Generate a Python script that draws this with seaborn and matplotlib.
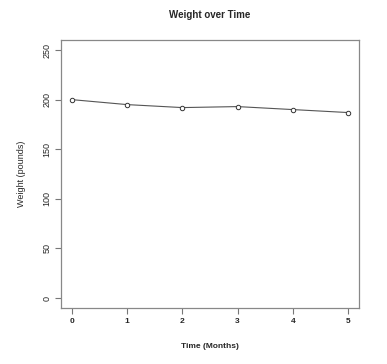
import pandas as pd
import seaborn as sns
import matplotlib
matplotlib.use("Agg")
import matplotlib.pyplot as plt

months = [0, 1, 2, 3, 4, 5]
weight = [200, 195, 192, 193, 190, 187]
y_ticks = [0, 50, 100, 150, 200, 250]

df = pd.DataFrame({"month": months, "weight": weight})

sns.set_style("ticks")
plt.rcParams["font.family"] = ["Liberation Sans", "DejaVu Sans"]

fig = plt.figure(figsize=(3.87, 3.64), dpi=100)
ax = fig.add_axes([0.1576, 0.1538, 0.770, 0.736])

sns.lineplot(data=df, x="month", y="weight", ax=ax, color="#555555", linewidth=0.8,
             marker="o", markersize=3.2, markerfacecolor="white",
             markeredgecolor="#333333", markeredgewidth=0.7)

ax.set_xlim(-0.2, 5.2)
ax.set_ylim(-10, 260)
ax.set_xticks(months)
ax.set_yticks(y_ticks)
ax.set_xticklabels([str(m) for m in months], fontsize=6, fontweight="bold")
ax.set_yticklabels([str(t) for t in y_ticks], fontsize=6.5, rotation=90, va="center")
ax.tick_params(axis="both", length=4, width=0.8, color="#777777", pad=3)

for s in ax.spines.values():
    s.set_visible(True)
    s.set_color("#888888")
    s.set_linewidth(0.9)

ax.set_xlabel("Time (Months)", fontsize=6, fontweight="bold", labelpad=13)
ax.set_ylabel("Weight (pounds)", fontsize=6.5, labelpad=12)
ax.set_title("Weight over Time", fontsize=7, fontweight="bold", pad=16)

fig.savefig("out.png", dpi=100)
